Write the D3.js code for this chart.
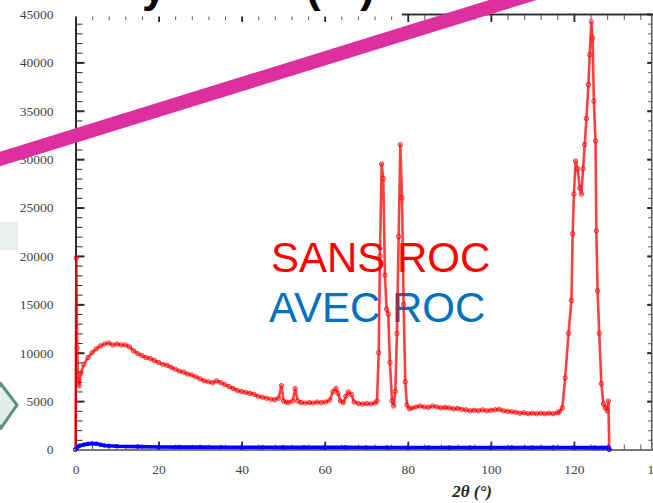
<!DOCTYPE html>
<html><head><meta charset="utf-8">
<script src="https://cdn.jsdelivr.net/npm/d3@7"></script>
<style>html,body{margin:0;padding:0;background:#fff;overflow:hidden}</style>
</head><body>
<svg id="c" width="653" height="503"></svg>
<script>
// ---------- data ----------
const sansRoc = [[0,0],[0.2,19800],[0.4,10500],[0.6,7200],[0.9,6600],[1.3,7900],[2,8800],[3,9500],[4,10000],[5,10400],[6,10700],[7,10900],[8,11000],[9,10800],[10,10900],[11,10800],[12,10800],[13,10600],[14,10200],[15,9900],[16,9700],[17,9500],[18,9400],[19,9200],[20,9000],[21,8800],[22,8700],[23,8500],[24,8300],[25,8100],[26,8000],[27,7800],[28,7700],[29,7500],[30,7300],[31,7100],[32,7000],[33,6900],[34,7100],[35,6900],[36,6700],[37,6500],[38,6300],[39,6100],[40,6000],[41,5900],[42,5800],[43,5700],[44,5500],[45,5400],[46,5300],[47,5200],[48,5150],[48.9,5300],[49.6,6600],[50.1,5000],[50.8,4900],[51.3,4850],[52.3,5000],[52.9,6300],[53.5,5000],[54.3,4850],[55.3,4800],[56.3,4850],[57.2,4800],[58.2,4900],[59.2,4850],[60.2,4900],[61.2,5100],[62.0,6000],[62.7,6300],[63.2,5800],[63.8,5000],[64.5,4850],[65.1,5500],[65.7,5950],[66.4,5700],[67.1,4900],[68.1,4750],[69.1,4700],[70.1,4750],[71.1,4700],[72.1,4800],[72.6,5000],[73.0,10000],[73.3,20000],[73.7,29500],[74.1,28000],[74.5,18000],[74.9,14500],[75.3,14000],[75.7,9000],[76.2,5000],[76.6,4500],[77.0,6000],[77.4,12000],[77.8,22000],[78.2,31500],[78.6,26000],[79.0,15000],[79.4,7000],[79.8,4600],[80.4,4200],[81,4300],[82,4400],[83,4500],[84,4400],[85,4350],[86,4500],[87,4400],[88,4300],[89,4350],[90,4300],[91,4200],[92,4250],[93,4150],[94,4100],[95,4000],[96,4050],[97,4000],[98,4100],[99,4000],[100,4050],[101,4100],[102,4150],[103,4000],[104,3950],[105,3900],[106,3850],[107,3750],[108,3800],[109,3700],[110,3750],[111,3700],[112,3750],[113,3700],[114,3750],[115,3700],[116,3800],[116.5,3900],[117.2,4300],[117.9,7400],[118.7,12000],[119.4,15400],[119.7,22300],[120.0,26400],[120.4,29800],[120.9,29000],[121.4,27000],[121.8,26400],[122.2,29000],[122.6,31500],[123.0,34200],[123.5,37700],[123.8,40800],[124.2,44200],[124.5,42500],[124.8,36000],[125.2,31900],[125.4,22600],[125.7,16400],[126.1,12000],[126.6,6800],[127.1,4700],[127.6,4300],[128.0,4000],[128.3,5000],[128.5,0]];
const avecRoc = [[0,0],[0.5,250],[1,400],[2,500],[3,580],[4,620],[5,600],[6,500],[7,420],[8,380],[10,330],[15,300],[20,260],[25,250],[30,250],[35,240],[40,230],[45,225],[50,220],[55,220],[60,220],[65,215],[70,210],[75,210],[80,210],[85,205],[90,200],[95,200],[100,200],[105,200],[110,200],[115,200],[120,200],[125,195],[128.4,190],[128.5,0]];
const xTickValues = [0,20,40,60,80,100,120,140];
const yTickValues = [0,5000,10000,15000,20000,25000,30000,35000,40000,45000];
const xMinorStep = 4;
const yMinorStep = 1000;
const seriesLabels = ["SANS ROC","AVEC ROC"];
const xAxisTitle = "2\u03B8 (\u00B0)";
const titleFragments = ["y","(",")"];

// ---------- layout ----------
const svg = d3.select("#c");
const x = d3.scaleLinear().domain([0,140]).range([75.5,657]);
const y = d3.scaleLinear().domain([0,45000]).range([449.5,14]);
const xRightFrame = 138.6;

// background slide fragments on the left
svg.append("rect").attr("x",0).attr("y",222).attr("width",18).attr("height",28).attr("fill","#e9ecec").attr("opacity",0.9);
svg.append("polygon").attr("points","-16,405 1,384 17,405 1,428").attr("fill","#dcece6").attr("stroke","#3f7d70").attr("stroke-width",3).attr("opacity",0.85);

const axisCol = "#2a2a2a";
function styleAxis(g, col, w){
  g.select(".domain").attr("stroke",col).attr("stroke-width",w);
  g.selectAll(".tick line").attr("stroke",col).attr("stroke-width",1.3);
  g.selectAll("text").attr("font-family","'Liberation Serif', serif").attr("font-size",13.5).attr("fill","#444");
}
const minorY = d3.range(0,45001,yMinorStep);
const minorX = d3.range(0,141,xMinorStep);

// left axis
const gLm = svg.append("g").attr("transform",`translate(${x(0)},0)`)
  .call(d3.axisLeft(y).tickValues(minorY).tickSizeInner(-7).tickSizeOuter(0).tickFormat(""));
styleAxis(gLm, axisCol, 2); gLm.selectAll(".tick line").attr("stroke-width",1);
const gL = svg.append("g").attr("transform",`translate(${x(0)},0)`)
  .call(d3.axisLeft(y).tickValues(yTickValues).tickSizeInner(-9).tickSizeOuter(0).tickPadding(22).tickFormat(d3.format("d")));
styleAxis(gL, axisCol, 2); gL.selectAll(".tick line").attr("stroke-width",2);

// right axis
const gRm = svg.append("g").attr("transform",`translate(${x(xRightFrame)},0)`)
  .call(d3.axisRight(y).tickValues(minorY).tickSizeInner(-3).tickSizeOuter(0).tickFormat(""));
styleAxis(gRm, "#555", 1.2); gRm.selectAll(".tick line").attr("stroke","#777");
const gR = svg.append("g").attr("transform",`translate(${x(xRightFrame)},0)`)
  .call(d3.axisRight(y).tickValues(yTickValues).tickSizeInner(-4).tickSizeOuter(0).tickFormat(""));
styleAxis(gR, "#555", 1.2); gR.selectAll(".tick line").attr("stroke","#222").attr("stroke-width",2);

// top axis
const gTm = svg.append("g").attr("transform",`translate(0,${y(45000)})`)
  .call(d3.axisTop(x).tickValues(minorX).tickSizeInner(-6).tickSizeOuter(0).tickFormat(""));
styleAxis(gTm, axisCol, 1.5); gTm.selectAll(".tick line").attr("stroke","#555").attr("stroke-width",1);
const gT = svg.append("g").attr("transform",`translate(0,${y(45000)})`)
  .call(d3.axisTop(x).tickValues(xTickValues).tickSizeInner(-8).tickSizeOuter(0).tickFormat(""));
styleAxis(gT, axisCol, 1.5); gT.selectAll(".tick line").attr("stroke-width",1.8);

// bottom axis
const gBm = svg.append("g").attr("transform",`translate(0,${y(0)})`)
  .call(d3.axisBottom(x).tickValues(minorX).tickSizeInner(-5).tickSizeOuter(0).tickFormat(""));
styleAxis(gBm, "#777", 2); gBm.selectAll(".tick line").attr("stroke","#555").attr("stroke-width",1);
const gB = svg.append("g").attr("transform",`translate(0,${y(0)})`)
  .call(d3.axisBottom(x).tickValues(xTickValues).tickSizeInner(-8).tickSizeOuter(0).tickPadding(15).tickFormat(d3.format("d")));
styleAxis(gB, "#777", 2); gB.selectAll(".tick line").attr("stroke","#333").attr("stroke-width",1.8);

// x axis title
svg.append("text").attr("x",472).attr("y",497).attr("text-anchor","middle")
  .attr("font-family","'Liberation Serif', serif").attr("font-weight","bold").attr("font-style","italic")
  .attr("font-size",17).attr("fill","#222").text(xAxisTitle);

// series labels (text)
const labelCols = ["#ff0000","#0070c0"];
svg.selectAll("text.lab").data(seriesLabels).join("text").attr("class","lab")
  .attr("x",(d,i)=> i===0 ? 271 : 269).attr("y",(d,i)=> i===0 ? 272 : 322)
  .attr("font-family","'Liberation Sans', Arial, sans-serif").attr("font-size",42)
  .attr("fill",(d,i)=>labelCols[i]).text(d=>d);

// data lines
const line = d3.line().x(d=>x(d[0])).y(d=>y(d[1]));
function drawSeries(data, col, lw, op, r, rw){
  svg.append("path").datum(data).attr("d",line).attr("fill","none").attr("stroke",col).attr("stroke-width",lw).attr("stroke-opacity",op).attr("stroke-linejoin","round");
  svg.append("g").selectAll("circle").data(data).join("circle")
    .attr("cx",d=>x(d[0])).attr("cy",d=>y(d[1])).attr("r",r)
    .attr("fill","none").attr("stroke",col).attr("stroke-width",rw).attr("stroke-opacity",0.8);
}
drawSeries(sansRoc, "#ff0000", 2.6, 0.75, 2.2, 1);
drawSeries(avecRoc, "#0000ff", 3.6, 1, 1.9, 1);

// title cover and fragments
svg.append("rect").attr("x",62).attr("y",0).attr("width",340).attr("height",16.5).attr("fill","#fff");
const fragX = [142,306,360];
svg.selectAll("text.ttl").data(titleFragments).join("text").attr("class","ttl")
  .attr("x",(d,i)=>fragX[i]).attr("y",2)
  .attr("font-family","'Liberation Sans', Arial, sans-serif").attr("font-weight","bold").attr("font-size",44)
  .attr("fill","#000").text(d=>d);

// pink diagonal stroke
svg.append("line").attr("x1",-20).attr("y1",165.2).attr("x2",560).attr("y2",-14.6)
  .attr("stroke","#dd2fa0").attr("stroke-width",14);
</script>
</body></html>
